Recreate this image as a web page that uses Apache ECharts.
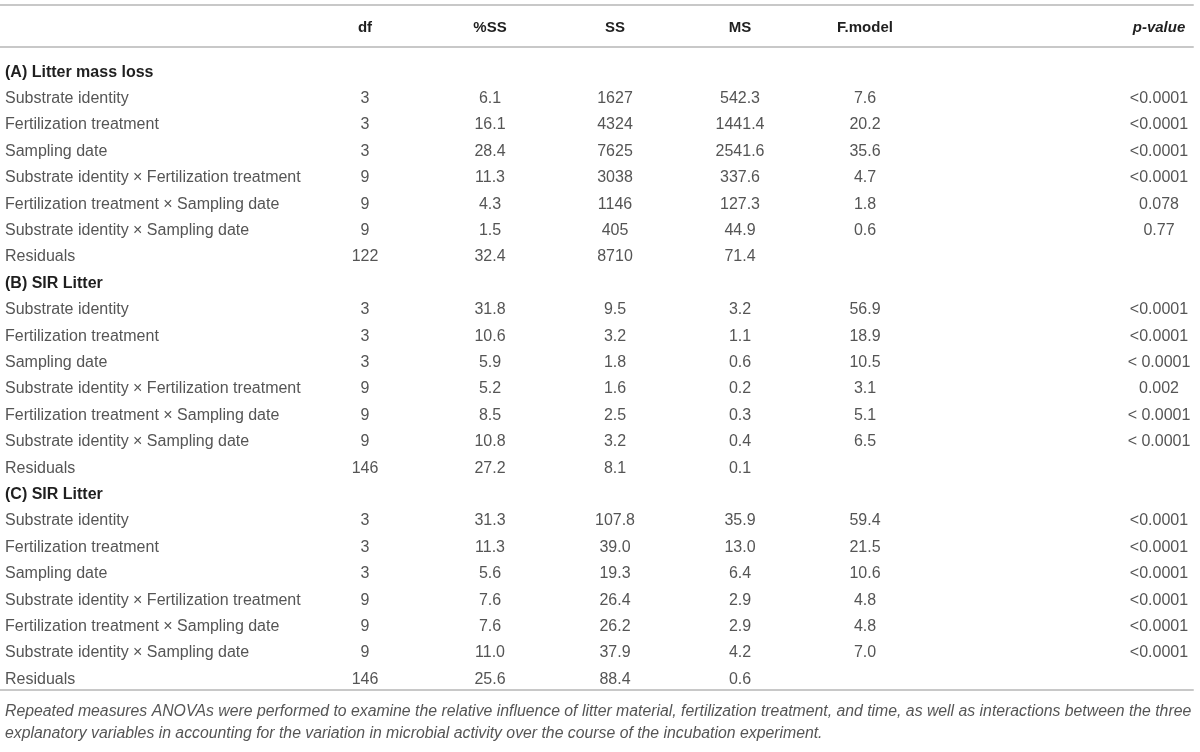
<!DOCTYPE html>
<html>
<head>
<meta charset="utf-8">
<script src="https://cdn.jsdelivr.net/npm/echarts@6/dist/echarts.min.js"></script>
<style>
  html, body { margin: 0; padding: 0; background: #fff; }
  #chart { width: 1200px; height: 752px; }
</style>
</head>
<body>
<div id="chart"></div>
<script>
const sectionTitles = ['(A) Litter mass loss', '(B) SIR Litter', '(C) SIR Litter']
const termNames = [
  'Substrate identity',
  'Fertilization treatment',
  'Sampling date',
  'Substrate identity × Fertilization treatment',
  'Fertilization treatment × Sampling date',
  'Substrate identity × Sampling date',
  'Residuals'
]
const statHeaders = ['df', '%SS', 'SS', 'MS', 'F.model']
const pHeader = 'p-value'

// one entry per term row, sections A, B, C one after the other
const dfValues = ['3', '3', '3', '9', '9', '9', '122',
  '3', '3', '3', '9', '9', '9', '146',
  '3', '3', '3', '9', '9', '9', '146']
const pctSS = ['6.1', '16.1', '28.4', '11.3', '4.3', '1.5', '32.4',
  '31.8', '10.6', '5.9', '5.2', '8.5', '10.8', '27.2',
  '31.3', '11.3', '5.6', '7.6', '7.6', '11.0', '25.6']
const ssValues = ['1627', '4324', '7625', '3038', '1146', '405', '8710',
  '9.5', '3.2', '1.8', '1.6', '2.5', '3.2', '8.1',
  '107.8', '39.0', '19.3', '26.4', '26.2', '37.9', '88.4']
const msValues = ['542.3', '1441.4', '2541.6', '337.6', '127.3', '44.9', '71.4',
  '3.2', '1.1', '0.6', '0.2', '0.3', '0.4', '0.1',
  '35.9', '13.0', '6.4', '2.9', '2.9', '4.2', '0.6']
const fModel = ['7.6', '20.2', '35.6', '4.7', '1.8', '0.6', '',
  '56.9', '18.9', '10.5', '3.1', '5.1', '6.5', '',
  '59.4', '21.5', '10.6', '4.8', '4.8', '7.0', '']
const pValues = ['<0.0001', '<0.0001', '<0.0001', '<0.0001', '0.078', '0.77', '',
  '<0.0001', '<0.0001', '< 0.0001', '0.002', '< 0.0001', '< 0.0001', '',
  '<0.0001', '<0.0001', '<0.0001', '<0.0001', '<0.0001', '<0.0001', '']
const footnote = [
  'Repeated measures ANOVAs were performed to examine the relative influence of litter material, fertilization treatment, and time, as well as interactions between the three',
  'explanatory variables in accounting for the variation in microbial activity over the course of the incubation experiment.'
]

const FONT = '"Liberation Sans", Arial, sans-serif'
const TEXT_COLOR = '#555555'
const HEAD_COLOR = '#1f1f1f'
const RULE_COLOR = '#c8c8c8'
const ROW_H = 26.4

// build table rows: section title row followed by its term rows
const rowIds = []
const labelCells = []
const statCells = []
const pCells = []
const statColumns = [dfValues, pctSS, ssValues, msValues, fModel]

sectionTitles.forEach((title, s) => {
  const titleRow = rowIds.length
  rowIds.push('r' + titleRow)
  labelCells.push({ value: [0, titleRow], text: title, bold: true })
  termNames.forEach((term, t) => {
    const k = s * termNames.length + t
    const row = rowIds.length
    rowIds.push('r' + row)
    labelCells.push({ value: [0, row], text: term })
    statColumns.forEach((col, c) => {
      if (col[k]) statCells.push({ value: [c, row], text: col[k] })
    })
    if (pValues[k]) pCells.push({ value: [0, row], text: pValues[k] })
  })
})

function textRenderer(cells, align) {
  return function (params, api) {
    const pt = api.coord([api.value(0), api.value(1)])
    const band = api.size([1, 0])[0]
    const cell = cells[params.dataIndex]
    return {
      type: 'text',
      x: align === 'left' ? pt[0] - band / 2 : pt[0],
      y: pt[1],
      style: {
        text: cell.text,
        fontFamily: FONT,
        fontSize: 16,
        fontWeight: cell.bold ? 'bold' : 'normal',
        fill: cell.bold ? HEAD_COLOR : TEXT_COLOR,
        align: align,
        verticalAlign: 'middle',
        textAlign: align,
        textVerticalAlign: 'middle'
      }
    }
  }
}

const gridTop = 59
const gridHeight = ROW_H * rowIds.length

const headerLabel = {
  margin: 24,
  fontFamily: FONT,
  fontSize: 15,
  fontWeight: 'bold',
  color: HEAD_COLOR
}

function catX(gridIndex, data, extra) {
  return Object.assign({
    type: 'category',
    gridIndex,
    data,
    position: 'top',
    axisLine: { show: false },
    axisTick: { show: false },
    axisLabel: Object.assign({}, headerLabel)
  }, extra || {})
}

function rowsY(gridIndex) {
  return {
    type: 'category',
    gridIndex,
    data: rowIds,
    inverse: true,
    show: false
  }
}

function ruleX(position, offset) {
  return {
    type: 'value',
    gridIndex: 3,
    position,
    offset,
    min: 0,
    max: 1,
    axisLine: { show: true, onZero: false, lineStyle: { color: RULE_COLOR, width: 2 } },
    axisTick: { show: false },
    axisLabel: { show: false },
    splitLine: { show: false }
  }
}

const chart = echarts.init(document.getElementById('chart'), null, { renderer: 'canvas' })

chart.setOption({
  animation: false,
  backgroundColor: '#ffffff',
  title: {
    text: footnote.join('\n'),
    left: 5,
    top: 701,
    padding: 0,
    textStyle: {
      fontFamily: FONT,
      fontSize: 15.8,
      fontStyle: 'italic',
      fontWeight: 'normal',
      color: TEXT_COLOR,
      lineHeight: 22
    }
  },
  grid: [
    { left: 5, width: 290, top: gridTop, height: gridHeight },
    { left: 302.5, width: 625, top: gridTop, height: gridHeight },
    { left: 1120, width: 78, top: gridTop, height: gridHeight },
    { left: 0, right: 7, top: 5, bottom: 62 }
  ],
  xAxis: [
    catX(0, ['']),
    catX(1, statHeaders),
    catX(2, [pHeader], { axisLabel: Object.assign({}, headerLabel, { fontStyle: 'italic' }) }),
    ruleX('top', 0),
    ruleX('top', -42),
    ruleX('bottom', 0)
  ],
  yAxis: [
    rowsY(0),
    rowsY(1),
    rowsY(2),
    { type: 'value', gridIndex: 3, show: false }
  ],
  series: [
    {
      type: 'custom',
      xAxisIndex: 0,
      yAxisIndex: 0,
      renderItem: textRenderer(labelCells, 'left'),
      data: labelCells
    },
    {
      type: 'custom',
      xAxisIndex: 1,
      yAxisIndex: 1,
      renderItem: textRenderer(statCells, 'center'),
      data: statCells
    },
    {
      type: 'custom',
      xAxisIndex: 2,
      yAxisIndex: 2,
      renderItem: textRenderer(pCells, 'center'),
      data: pCells
    }
  ]
})
</script>
</body>
</html>
